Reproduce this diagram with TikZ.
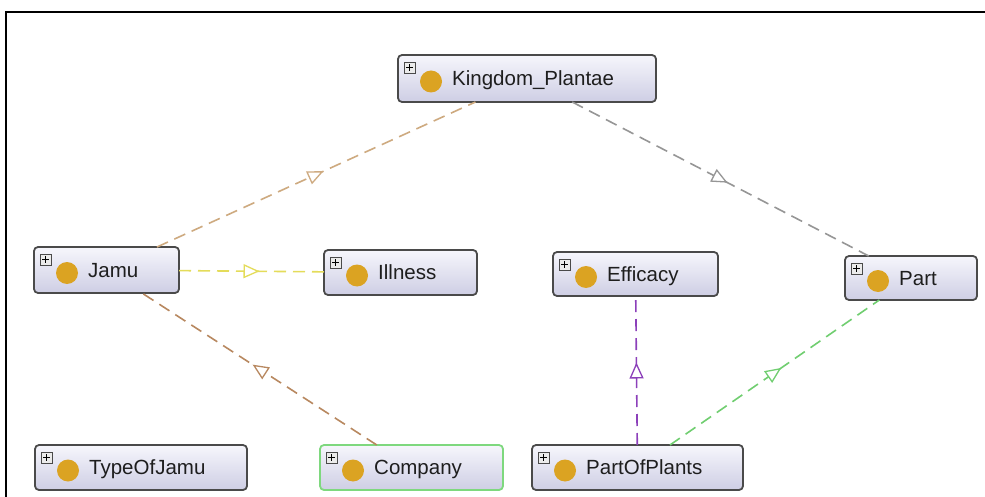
\documentclass[tikz,border=0pt]{standalone}
\usepackage{fontspec}
\setmainfont{Liberation Sans}
\usetikzlibrary{arrows.meta,decorations.markings,calc}

\definecolor{boxline}{RGB}{74,74,74}
\definecolor{boxtop}{RGB}{246,246,252}
\definecolor{boxbot}{RGB}{206,206,228}
\definecolor{textcol}{RGB}{30,30,30}
\definecolor{goldc}{RGB}{219,163,34}
\definecolor{greenbox}{RGB}{126,216,126}
\definecolor{edgetan}{RGB}{206,170,128}
\definecolor{edgegray}{RGB}{150,150,150}
\definecolor{edgeyel}{RGB}{228,220,90}
\definecolor{edgebrn}{RGB}{184,136,96}
\definecolor{edgepurp}{RGB}{140,64,186}
\definecolor{edgegrn}{RGB}{112,206,112}

\tikzset{
  cls/.style={draw=boxline, line width=1.8pt, rounded corners=4pt,
    top color=boxtop, bottom color=boxbot, inner sep=0pt, outer sep=0pt},
  lbl/.style={inner sep=0pt, font=\fontsize{20.5}{24}\selectfont, text=textcol, anchor=base west},
  plusbox/.style={draw=boxline, fill=white!92!black, line width=0.8pt},
  isa/.style={color=#1, dash pattern=on 12pt off 7pt, line width=1.6pt,
    postaction={decorate},
    decoration={markings, mark=at position 0.5 with {\pgftransformxshift{8pt}\arrow[solid]{Triangle[fill=white,length=16pt,width=14pt,line width=1.3pt]}}}}
}

\newcommand{\owlcls}[7]{%
  \node[cls, #7, minimum width={(#4)-(#2)}, minimum height={(#5)-(#3)}] (#1) at ({(#2+#4)/2},{(#3+#5)/2}) {};
  \draw[plusbox] ($(#1.north west)+(6,7)$) rectangle ++(11,11);
  \draw[line width=1.3pt, black] ($(#1.north west)+(8.3,12.5)$) -- ++(6.4,0);
  \draw[line width=1.3pt, black] ($(#1.north west)+(11.5,9.3)$) -- ++(0,6.4);
  \fill[goldc] ($(#1.west)+(33,3)$) circle (11);
  \node[lbl] (#1-t) at ($(#1.west)+(54,7)$) {#6};
}

\begin{document}
\begin{tikzpicture}[x=1pt,y=-1pt]
\useasboundingbox (0,0) rectangle (985,497);
\fill[white] (0,0) rectangle (985,497);
\draw[line width=2pt, black] (6,497) -- (6,12) -- (985,12);

\owlcls{k}{398}{55}{656}{102}{Kingdom\_Plantae}{}
\owlcls{j}{34}{247}{179}{293}{Jamu}{}
\owlcls{ill}{324}{250}{477}{295}{Illness}{}
\owlcls{eff}{553}{252}{718}{296}{Efficacy}{}
\owlcls{part}{845}{256}{977}{300}{Part}{}
\owlcls{type}{35}{445}{247}{490}{TypeOfJamu}{}
\owlcls{comp}{320}{445}{503}{490}{Company}{draw=greenbox}
\owlcls{pop}{532}{445}{743}{490}{PartOfPlants}{}

\draw[isa=edgetan] (j) -- (k);
\draw[isa=edgegray] (k) -- (part);
\draw[isa=edgeyel] (j) -- (ill);
\draw[isa=edgebrn] (comp) -- (j);
\draw[isa=edgepurp] (pop) -- (eff);
\draw[isa=edgegrn] (pop) -- (part);
\end{tikzpicture}
\end{document}
